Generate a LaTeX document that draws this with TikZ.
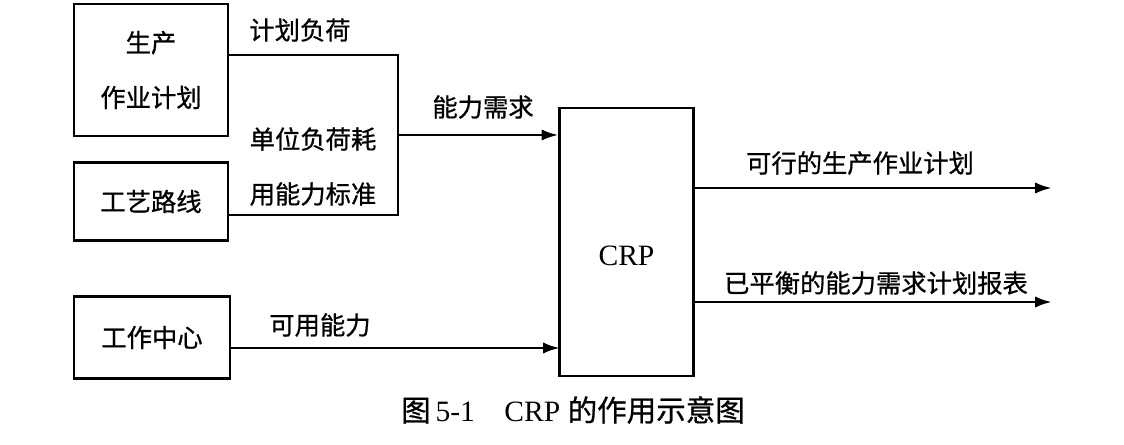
\documentclass[tikz,border=0pt]{standalone}
\usepackage{fontspec}
\setmainfont{Liberation Serif}
\newfontfamily\cjk[FakeBold=0.8]{Noto Sans CJK SC}
\usetikzlibrary{positioning,arrows.meta}

\begin{document}
\begin{tikzpicture}[
      x=0.025cm, y=-0.025cm,
      box/.style={draw, line width=2pt, inner sep=0pt, align=center, font=\cjk\fontsize{18}{39}\selectfont},
      lbl/.style={inner sep=0pt, align=center, font=\cjk\fontsize{18}{39}\selectfont},
      wire/.style={line width=2pt},
      arr/.style={-{Latex[length=4.2mm,width=2.8mm]}, line width=2pt}
  ]
    \useasboundingbox (0,0) rectangle (1124,445);
    \node[box, minimum width=3.85cm, minimum height=3.3cm] (plan) at (151,70) {生产\\作业计划};
    \node[box, minimum width=3.85cm, minimum height=1.93cm] (route) at (151,201.5) {工艺路线};
    \node[box, minimum width=3.9cm, minimum height=2.03cm] (center) at (152,337.5) {工作中心};
    \node[box, minimum width=3.33cm, minimum height=6.7cm, text height=1.16cm, text depth=0pt, font=\fontsize{21}{24}\selectfont] (crp) at (626.5,242) {CRP};
    \coordinate (top) at (398,55);
    \coordinate (bot) at (398,215);
    \coordinate (need) at (398,135);
    \coordinate (avail) at (560,348);
    \coordinate (out1) at (1052,188);
    \coordinate (out2) at (1052,302);
    \draw[wire] (plan.east |- top) -- (top) -- (bot) -- (route.east |- bot);
    \draw[arr] (need) -- (crp.west |- need);
    \draw[arr] (center.east |- avail) -- (avail);
    \draw[arr] (crp.east |- out1) -- (out1);
    \draw[arr] (crp.east |- out2) -- (out2);
    \node[lbl] (load) at (300,30) {计划负荷};
    \node[lbl] (std) at (313,166.5) {单位负荷耗\\用能力标准};
    \node[lbl] (demand) at (483,107) {能力需求};
    \node[lbl] (cap) at (320,325) {可用能力};
    \node[lbl] (feasible) at (860,163) {可行的生产作业计划};
    \node[lbl] (report) at (876,283) {已平衡的能力需求计划报表};
    \node[inner sep=0pt, font=\fontsize{21}{24}\selectfont] (caption) at (573,410) {{\cjk 图}\,5-1\quad CRP {\cjk 的作用示意图}};
  \end{tikzpicture}
\end{document}
